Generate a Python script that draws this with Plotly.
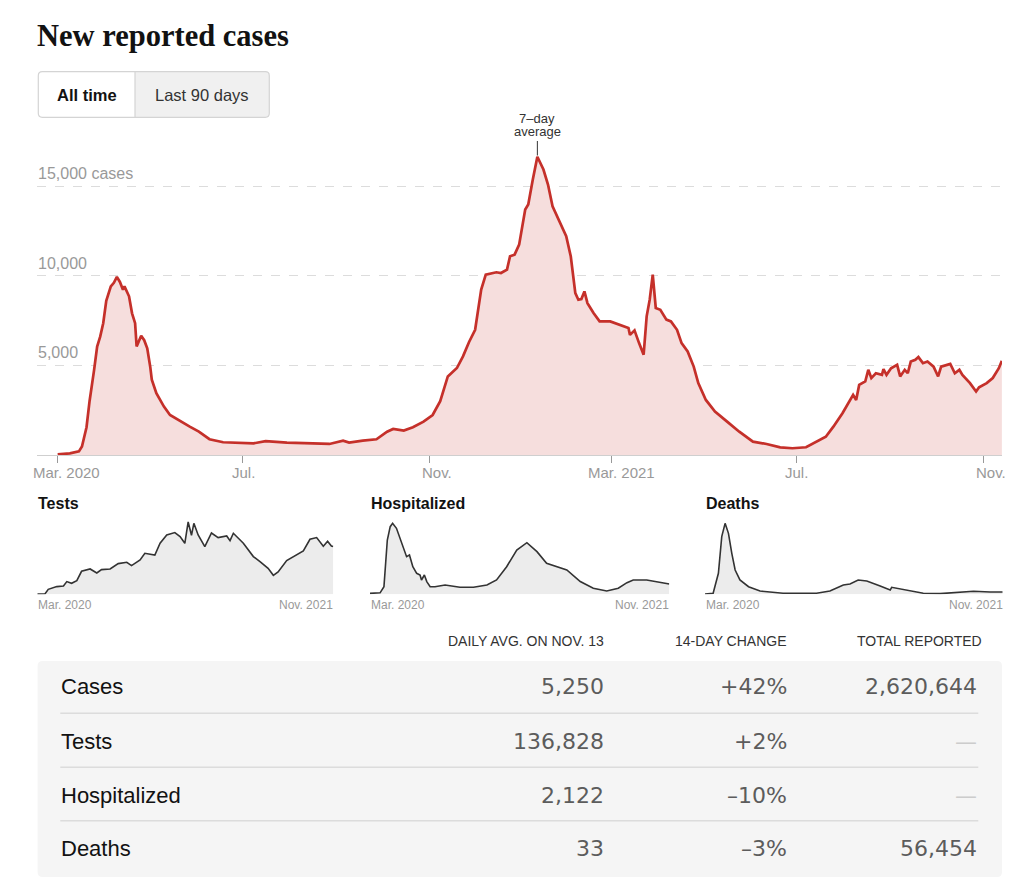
import plotly.graph_objects as go

# ---------------- DATA ----------------
case_dates = [
    "2020-03-01", "2020-03-09", "2020-03-15", "2020-03-17", "2020-03-20", "2020-03-22",
    "2020-03-25", "2020-03-27", "2020-03-29", "2020-03-31", "2020-04-02", "2020-04-05",
    "2020-04-07", "2020-04-09", "2020-04-11", "2020-04-13", "2020-04-14", "2020-04-17",
    "2020-04-19", "2020-04-21", "2020-04-22", "2020-04-25", "2020-04-27", "2020-04-29",
    "2020-05-01", "2020-05-02", "2020-05-05", "2020-05-10", "2020-05-14", "2020-05-21",
    "2020-05-27", "2020-06-02", "2020-06-09", "2020-06-18", "2020-07-01", "2020-07-08",
    "2020-07-16", "2020-07-30", "2020-08-16", "2020-08-27", "2020-09-05", "2020-09-09",
    "2020-09-18", "2020-09-27", "2020-10-04", "2020-10-08", "2020-10-15", "2020-10-21",
    "2020-10-28", "2020-11-03", "2020-11-08", "2020-11-13", "2020-11-19", "2020-11-23",
    "2020-11-27", "2020-12-01", "2020-12-05", "2020-12-08", "2020-12-15", "2020-12-18",
    "2020-12-22", "2020-12-24", "2020-12-27", "2020-12-30", "2021-01-03", "2021-01-05",
    "2021-01-08", "2021-01-11", "2021-01-15", "2021-01-18", "2021-01-21", "2021-01-26",
    "2021-01-30", "2021-02-02", "2021-02-05", "2021-02-07", "2021-02-09", "2021-02-11",
    "2021-02-13", "2021-02-17", "2021-02-21", "2021-02-28", "2021-03-06", "2021-03-12",
    "2021-03-13", "2021-03-16", "2021-03-19", "2021-03-22", "2021-03-24", "2021-03-26",
    "2021-03-28", "2021-03-30", "2021-04-02", "2021-04-06", "2021-04-09", "2021-04-13",
    "2021-04-16", "2021-04-20", "2021-04-24", "2021-04-27", "2021-05-02", "2021-05-08",
    "2021-05-16", "2021-05-24", "2021-06-02", "2021-06-11", "2021-06-20", "2021-06-28",
    "2021-07-07", "2021-07-14", "2021-07-20", "2021-07-25", "2021-07-31", "2021-08-07",
    "2021-08-09", "2021-08-11", "2021-08-15", "2021-08-17", "2021-08-19", "2021-08-22",
    "2021-08-26", "2021-08-27", "2021-08-29", "2021-09-01", "2021-09-05", "2021-09-07",
    "2021-09-10", "2021-09-12", "2021-09-14", "2021-09-17", "2021-09-19", "2021-09-22",
    "2021-09-25", "2021-09-29", "2021-10-02", "2021-10-04", "2021-10-10", "2021-10-13",
    "2021-10-16", "2021-10-18", "2021-10-23", "2021-10-27", "2021-10-29", "2021-11-03",
    "2021-11-07", "2021-11-11", "2021-11-13",
]
case_values = [
    30, 90, 200, 470, 1550, 3000,
    4750, 6050, 6600, 7350, 8600, 9400,
    9600, 9930, 9650, 9220, 9400, 8850,
    7900, 7350, 6050, 6650, 6400, 5950,
    4900, 4200, 3450, 2700, 2230, 1860,
    1580, 1300, 880, 710, 690, 650,
    770, 690, 650, 615, 800, 690,
    800, 875, 1300, 1450, 1360, 1550,
    1860, 2230, 3000, 4380, 4850, 5500,
    6300, 6980, 9220, 10060, 10190, 10150,
    10340, 11080, 11170, 11730, 13690, 13970,
    15360, 16630, 15920, 15080, 13870, 12940,
    12200, 11080, 9030, 8660, 8700, 9120,
    8470, 7920, 7450, 7450, 7260, 7080,
    6700, 6950, 6240, 5590, 7730, 8660,
    10060, 8200, 8100, 7550, 7450, 6980,
    6240, 5770, 4930, 4010, 3070, 2420,
    1860, 1300, 745, 615, 430, 375,
    430, 745, 1020, 1580, 2330, 3350,
    3070, 3910, 4100, 4750, 4290, 4560,
    4470, 4790, 4470, 4840, 5030, 4380,
    4750, 4560, 5210, 5310, 5460, 5120,
    5210, 4930, 4380, 4930, 5080, 4560,
    4750, 4470, 4010, 3540, 3780, 4010,
    4290, 4840, 5250,
]

test_dates = [
    "2020-03-01", "2020-03-17", "2020-03-24", "2020-04-11", "2020-04-25", "2020-05-02",
    "2020-05-12", "2020-05-23", "2020-06-02", "2020-06-20", "2020-07-04", "2020-07-14",
    "2020-08-01", "2020-08-18", "2020-09-05", "2020-09-15", "2020-10-03", "2020-10-13",
    "2020-11-03", "2020-11-14", "2020-11-28", "2020-12-15", "2020-12-26", "2021-01-05",
    "2021-01-12", "2021-01-19", "2021-01-24", "2021-02-02", "2021-02-16", "2021-03-02",
    "2021-03-16", "2021-04-03", "2021-04-10", "2021-04-17", "2021-05-08", "2021-05-29",
    "2021-06-12", "2021-06-29", "2021-07-10", "2021-07-20", "2021-08-07", "2021-08-28",
    "2021-09-11", "2021-09-25", "2021-10-09", "2021-10-23", "2021-11-01", "2021-11-09",
    "2021-11-13",
]
test_values = [
    500, 1000, 14300, 22100, 23800, 36400,
    31500, 39300, 66000, 72600, 61100, 70800,
    72600, 88000, 91800, 82300, 98400, 117600,
    112700, 146300, 170100, 177000, 165500, 146300,
    207400, 169200, 203600, 170100, 136800, 175800,
    162600, 167200, 154000, 175000, 146300, 108100,
    93800, 74600, 54500, 64000, 96700, 114700,
    124200, 157700, 162600, 137700, 152000, 138500,
    136828,
]

hosp_dates = [
    "2020-03-01", "2020-03-22", "2020-03-30", "2020-04-06", "2020-04-12", "2020-04-17",
    "2020-04-25", "2020-05-06", "2020-05-16", "2020-05-22", "2020-05-29", "2020-06-06",
    "2020-06-13", "2020-06-16", "2020-06-22", "2020-06-27", "2020-07-04", "2020-07-14",
    "2020-08-04", "2020-09-04", "2020-10-02", "2020-10-30", "2020-11-19", "2020-12-10",
    "2020-12-31", "2021-01-21", "2021-02-11", "2021-03-03", "2021-03-24", "2021-04-14",
    "2021-05-12", "2021-06-08", "2021-07-06", "2021-07-30", "2021-08-17", "2021-08-30",
    "2021-09-27", "2021-10-25", "2021-11-13",
]
hosp_values = [
    200, 300, 1570, 11190, 13930, 14630,
    13600, 10510, 7750, 8100, 5690, 4330,
    3980, 2950, 3980, 2620, 1570, 1570,
    1920, 1440, 1440, 1920, 2950, 5690,
    9130, 10630, 8780, 6390, 5690, 5010,
    2620, 1240, 680, 1240, 2390, 2950,
    2950, 2470, 2122,
]

death_dates = [
    "2020-03-01", "2020-03-18", "2020-03-29", "2020-04-05", "2020-04-12", "2020-04-19",
    "2020-04-26", "2020-05-03", "2020-05-13", "2020-05-31", "2020-06-24", "2020-08-11",
    "2020-10-20", "2020-11-17", "2020-12-15", "2020-12-29", "2021-01-15", "2021-02-02",
    "2021-03-02", "2021-03-23", "2021-03-26", "2021-04-27", "2021-05-31", "2021-07-05",
    "2021-08-09", "2021-09-13", "2021-10-18", "2021-11-13",
]
death_values = [
    5, 14, 300, 824, 1015, 872,
    586, 347, 205, 109, 47, 14,
    14, 47, 133, 147, 204, 190,
    119, 61, 100, 61, 14, 10,
    29, 43, 33, 33,
]

main_tick_dates = ["2020-03-01", "2020-07-01", "2020-11-01", "2021-03-01", "2021-07-01", "2021-11-01"]
main_tick_labels = ["Mar. 2020", "Jul.", "Nov.", "Mar. 2021", "Jul.", "Nov."]
y_grid_values = [5000, 10000, 15000]
y_grid_labels = ["5,000", "10,000", "15,000 cases"]

table_headers = ["DAILY AVG. ON NOV. 13", "14-DAY CHANGE", "TOTAL REPORTED"]
table_rows = ["Cases", "Tests", "Hospitalized", "Deaths"]
table_daily = ["5,250", "136,828", "2,122", "33"]
table_change = ["+42%", "+2%", "–10%", "–3%"]
table_total = ["2,620,644", "—", "—", "56,454"]

# ---------------- LAYOUT HELPERS ----------------
W, H = 1024, 882


def px(x):
    return x / W


def py(y):
    return 1 - y / H


SANS = "Liberation Sans, Arial, sans-serif"
NUM = "DejaVu Sans, Liberation Sans, sans-serif"
SERIF = "Liberation Serif, Times New Roman, serif"
RED = "#c5302a"
PINK = "#f6dedd"

fig = go.Figure()

# main chart
fig.add_trace(go.Scatter(
    x=case_dates, y=case_values, mode="lines",
    line=dict(color=RED, width=2.7), fill="tozeroy", fillcolor=PINK,
    xaxis="x", yaxis="y", hoverinfo="skip",
))

small = [
    (test_dates, test_values, "x2", "y2"),
    (hosp_dates, hosp_values, "x3", "y3"),
    (death_dates, death_values, "x4", "y4"),
]
for d, v, xa, ya in small:
    fig.add_trace(go.Scatter(
        x=d, y=v, mode="lines", line=dict(color="#333333", width=1.6),
        fill="tozeroy", fillcolor="#ececec", xaxis=xa, yaxis=ya, hoverinfo="skip",
    ))

layout = dict(
    width=W, height=H, margin=dict(l=0, r=0, t=0, b=0, pad=0),
    paper_bgcolor="white", plot_bgcolor="rgba(0,0,0,0)", showlegend=False,
    font=dict(family=SANS, color="#333"),
    xaxis=dict(
        type="date", domain=[px(37), px(1002)],
        range=["2020-02-16 09:00", "2021-11-13 02:00"], anchor="y",
        tickvals=main_tick_dates, ticks="outside", ticklen=7, tickcolor="#999",
        tickwidth=1, showticklabels=False, showgrid=False, zeroline=False,
        showline=True, linecolor="#cfcfcf", linewidth=1, fixedrange=True,
    ),
    yaxis=dict(
        domain=[py(455), py(140)], range=[0, 17565], anchor="x",
        tickvals=y_grid_values, showticklabels=False, showgrid=True,
        gridcolor="#dcdcdc", griddash="dash", gridwidth=1, zeroline=False,
        ticks="", fixedrange=True,
    ),
)

panels = [
    ((37.3, 333.3), 218800),
    ((370.0, 669.3), 15720),
    ((705.0, 1002.7), 1091),
]
for i, ((x0, x1), ytop) in enumerate(panels):
    n = i + 2
    layout[f"xaxis{n}"] = dict(
        type="date", domain=[px(x0), px(x1)], range=["2020-03-01", "2021-11-13"],
        anchor=f"y{n}", showticklabels=False, showgrid=False, zeroline=False,
        showline=False, ticks="", fixedrange=True,
    )
    layout[f"yaxis{n}"] = dict(
        domain=[py(594.3), py(518)], range=[0, ytop], anchor=f"x{n}",
        showticklabels=False, showgrid=False, zeroline=False, showline=False,
        ticks="", fixedrange=True,
    )

fig.update_layout(**layout)

ann = []


def text(x, y, s, size, color="#333", anchor="left", family=SANS, bold=False, xref="paper", yref="paper", yshift=0):
    ann.append(dict(
        x=x, y=y, xref=xref, yref=yref, text=f"<b>{s}</b>" if bold else s,
        showarrow=False, xanchor=anchor, yanchor="middle", yshift=yshift,
        font=dict(size=size, color=color, family=family), borderpad=0,
    ))


# title
text(px(36), py(36), "New reported cases", 30.5, "#121212", family=SERIF, bold=True)

# buttons
text(px(86.7), py(95), "All time", 16.5, "#121212", anchor="center", bold=True)
text(px(202), py(95), "Last 90 days", 16.5, "#333", anchor="center")

# y labels
for v, lab in zip(y_grid_values, y_grid_labels):
    ann.append(dict(
        x=px(37), y=v, xref="paper", yref="y", text=lab, showarrow=False,
        xanchor="left", yanchor="middle", yshift=12.5, borderpad=0,
        font=dict(size=16, color="#999", family=SANS),
    ))

# x labels (centres)
x_label_centres = [66, 243.5, 437, 621, 796, 991]
for c, lab in zip(x_label_centres, main_tick_labels):
    text(px(c), py(472), lab, 15, "#999", anchor="center")

# 7-day average annotation
for yy, s in [(119, "7–day"), (132, "average")]:
    ann.append(dict(
        x="2021-01-11", y=py(yy), xref="x", yref="paper", text=s,
        showarrow=False, xanchor="center", yanchor="middle", borderpad=0,
        font=dict(size=13, color="#333", family=SANS),
    ))

# small multiple titles and labels
titles = ["Tests", "Hospitalized", "Deaths"]
for t, ((x0, x1), _) in zip(titles, panels):
    text(px(x0 - 0.5), py(503), t, 16, "#121212", bold=True)
    text(px(x0), py(605), "Mar. 2020", 12, "#999")
    text(px(x1 + 1), py(605), "Nov. 2021", 12, "#999", anchor="right")

# table
hdr_right = [604.5, 787.6, 983.3]
for r, h in zip(hdr_right, table_headers):
    text(px(r), py(641), h, 14, "#333", anchor="right")

row_y = [686.7, 741.7, 795.7, 848.3]
for yy, lab, a, b, c in zip(row_y, table_rows, table_daily, table_change, table_total):
    text(px(60), py(yy), lab, 22, "#121212")
    text(px(604.5), py(yy), a, 22, "#5c5c5c", anchor="right", family=NUM)
    text(px(787.6), py(yy), b, 22, "#5c5c5c", anchor="right", family=NUM)
    text(px(978.3), py(yy), c, 22, "#cccccc" if c == "—" else "#5c5c5c", anchor="right", family=NUM)

fig.update_layout(annotations=ann)


def rrect(x0, y0, x1, y1, r, tl=True, tr=True, br=True, bl=True):
    def P(x, y):
        return f"{px(x):.6f},{py(y):.6f}"
    s = ""
    s += "M" + P(x0 + (r if tl else 0), y0)
    s += " L" + P(x1 - (r if tr else 0), y0)
    if tr:
        s += " Q" + P(x1, y0) + " " + P(x1, y0 + r)
    s += " L" + P(x1, y1 - (r if br else 0))
    if br:
        s += " Q" + P(x1, y1) + " " + P(x1 - r, y1)
    s += " L" + P(x0 + (r if bl else 0), y1)
    if bl:
        s += " Q" + P(x0, y1) + " " + P(x0, y1 - r)
    s += " L" + P(x0, y0 + (r if tl else 0))
    if tl:
        s += " Q" + P(x0, y0) + " " + P(x0 + r, y0)
    s += " Z"
    return s


shapes = []
# button group
shapes.append(dict(type="path", path=rrect(135, 71.7, 269.3, 117.3, 4, tl=False, bl=False),
                   xref="paper", yref="paper", fillcolor="#f0f0f0", line=dict(width=0), layer="below"))
shapes.append(dict(type="path", path=rrect(38.3, 71.7, 269.3, 117.3, 4),
                   xref="paper", yref="paper", fillcolor="rgba(0,0,0,0)", line=dict(color="#d4d4d4", width=1.2)))
shapes.append(dict(type="line", x0=px(135), x1=px(135), y0=py(71.7), y1=py(117.3),
                   xref="paper", yref="paper", line=dict(color="#d4d4d4", width=1.2)))
# 7-day marker line
shapes.append(dict(type="line", x0="2021-01-11", x1="2021-01-11", y0=py(141), y1=py(155.5),
                   xref="x", yref="paper", line=dict(color="#333", width=1)))
# table background
shapes.append(dict(type="path", path=rrect(37.6, 661, 1002, 877, 5),
                   xref="paper", yref="paper", fillcolor="#f5f5f5", line=dict(width=0), layer="below"))
for yy in [713.3, 767.3, 820.7]:
    shapes.append(dict(type="line", x0=px(60.3), x1=px(978.3), y0=py(yy), y1=py(yy),
                       xref="paper", yref="paper", line=dict(color="#dcdcdc", width=1.5)))

fig.update_layout(shapes=shapes)

fig.write_html("out.html", config={"displayModeBar": False},
               post_script="document.body.style.margin='0px';")
